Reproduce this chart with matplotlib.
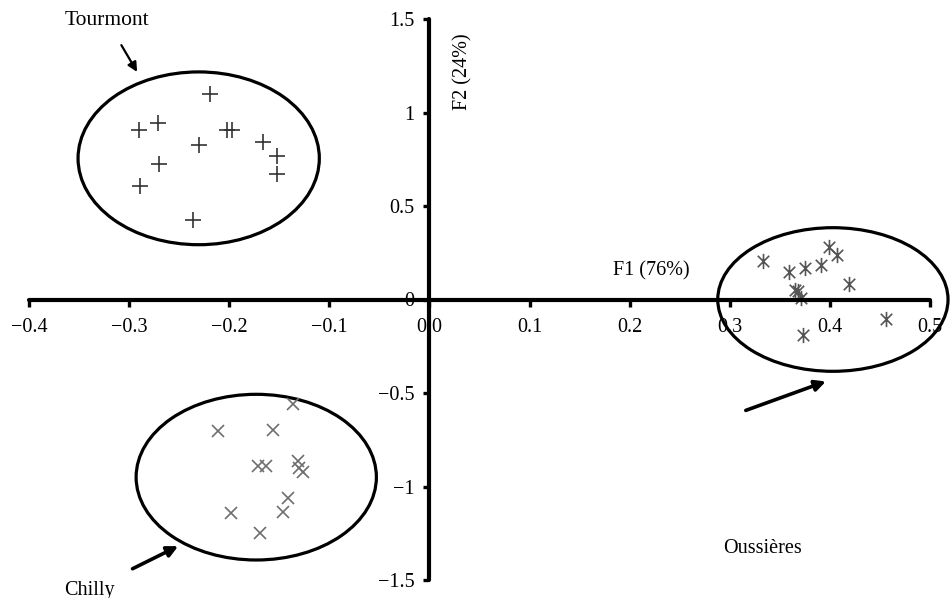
import matplotlib.pyplot as plt
from matplotlib.patches import Ellipse
from matplotlib.path import Path

plt.rcParams['font.family'] = ['Liberation Serif', 'DejaVu Serif']

# --- data (F1, F2 scores) ---
tourmont_x = [-0.219, -0.290, -0.271, -0.230, -0.202, -0.197, -0.166, -0.152, -0.152, -0.270, -0.289, -0.236]
tourmont_y = [1.10, 0.905, 0.945, 0.825, 0.904, 0.905, 0.841, 0.770, 0.672, 0.727, 0.606, 0.424]

chilly_x = [-0.136, -0.211, -0.156, -0.171, -0.163, -0.131, -0.130, -0.126, -0.141, -0.146, -0.198, -0.169]
chilly_y = [-0.559, -0.701, -0.698, -0.890, -0.890, -0.863, -0.899, -0.922, -1.064, -1.136, -1.143, -1.249]

oussieres_x = [0.333, 0.359, 0.375, 0.391, 0.399, 0.407, 0.419, 0.365, 0.368, 0.371, 0.456, 0.373]
oussieres_y = [0.205, 0.146, 0.166, 0.182, 0.281, 0.240, 0.085, 0.053, 0.044, 0.009, -0.103, -0.192]

# cluster ellipses: centre x, centre y, width, height
clusters = ['Tourmont', 'Chilly', 'Oussières']
ell_cx = [-0.2305, -0.173, 0.403]
ell_cy = [0.755, -0.950, 0.0]
ell_w = [0.241, 0.240, 0.230]
ell_h = [0.924, 0.886, 0.768]

x_ticks = [-0.4, -0.3, -0.2, -0.1, 0, 0.1, 0.2, 0.3, 0.4, 0.5]
x_labels = ['\u22120.4', '\u22120.3', '\u22120.2', '\u22120.1', '0 0', '0.1', '0.2', '0.3', '0.4', '0.5']
y_ticks = [-1.5, -1, -0.5, 0, 0.5, 1, 1.5]
y_labels = ['\u22121.5', '\u22121', '\u22120.5', '0', '0.5', '1', '1.5']

fig = plt.figure(figsize=(9.52, 5.98), dpi=100)
ax = fig.add_axes([29 / 952, 18 / 598, 901 / 952, 561 / 598])
ax.set_xlim(-0.4, 0.5)
ax.set_ylim(-1.5, 1.5)

# Excel style crossing axes
for side in ['top', 'right']:
	ax.spines[side].set_visible(False)
ax.spines['left'].set_position(('data', 0))
ax.spines['bottom'].set_position(('data', 0))
for side in ['left', 'bottom']:
	ax.spines[side].set_linewidth(3.0)
	ax.spines[side].set_capstyle('round')

ax.set_xticks(x_ticks)
ax.set_xticklabels(x_labels)
ax.set_yticks(y_ticks)
ax.set_yticklabels(y_labels)
ax.tick_params(axis='x', direction='out', length=5, width=2.4, labelsize=14.5, pad=8)
ax.tick_params(axis='y', direction='out', length=4, width=2.4, labelsize=14.5, pad=7)

# asterisk marker: vertical bar + X
ast = Path([(0, -1), (0, 1), (-0.75, -0.75), (0.75, 0.75), (-0.75, 0.75), (0.75, -0.75)],
		   [Path.MOVETO, Path.LINETO, Path.MOVETO, Path.LINETO, Path.MOVETO, Path.LINETO])

ax.plot(tourmont_x, tourmont_y, linestyle='none', marker='+', markersize=11, mew=1.2, color='#333333', clip_on=False)
ax.plot(chilly_x, chilly_y, linestyle='none', marker='x', markersize=9, mew=1.2, color='#6e6e6e', clip_on=False)
ax.plot(oussieres_x, oussieres_y, linestyle='none', marker=ast, markersize=11, mew=1.2, color='#555555', clip_on=False)

for cx, cy, w, h in zip(ell_cx, ell_cy, ell_w, ell_h):
	ax.add_patch(Ellipse((cx, cy), w, h, fill=False, edgecolor='black', linewidth=2.3, clip_on=False))

# axis titles
ax.text(0.2215, 0.155, 'F1 (76%)', fontsize=14.5, ha='center', va='center')
ax.text(0.0335, 1.219, 'F2 (24%)', fontsize=14.5, ha='center', va='center', rotation=90)

# cluster names with arrows
ax.annotate('Tourmont', xy=(-0.292, 1.217), xytext=(-0.322, 1.49), fontsize=15.5, ha='center', va='center',
			annotation_clip=False,
			arrowprops=dict(arrowstyle='-|>', color='black', lw=1.6, mutation_scale=14, shrinkA=10, shrinkB=0))
ax.annotate('Chilly', xy=(-0.251, -1.319), xytext=(-0.340, -1.555), fontsize=14.5, ha='center', va='center',
			annotation_clip=False,
			arrowprops=dict(arrowstyle='-|>', color='black', lw=2.6, mutation_scale=16, shrinkA=15, shrinkB=0))
ax.annotate('Oussières', xy=(0.396, -0.438), xytext=(0.333, -1.329), fontsize=14.5, ha='center', va='center',
			annotation_clip=False, color='black')
ax.annotate('', xy=(0.396, -0.438), xytext=(0.316, -0.593), annotation_clip=False,
			arrowprops=dict(arrowstyle='-|>', color='black', lw=2.6, mutation_scale=16, shrinkA=0, shrinkB=0))

fig.savefig('out.png', dpi=100, facecolor='white')
